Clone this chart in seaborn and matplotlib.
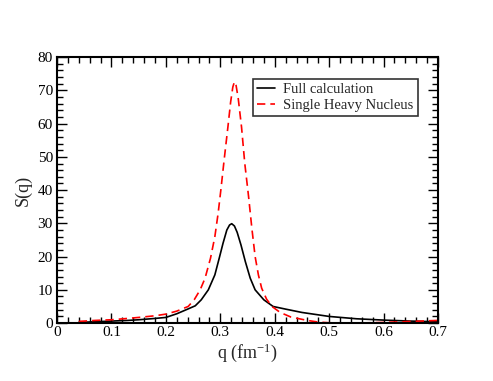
import numpy as np
import pandas as pd
import matplotlib
matplotlib.use("Agg")
import matplotlib.pyplot as plt
import seaborn as sns
from matplotlib.ticker import MultipleLocator

# Values
q_full = [0.04, 0.07, 0.10, 0.13, 0.15, 0.18, 0.20, 0.22, 0.24, 0.254, 0.265, 0.278, 0.29,
          0.298, 0.305, 0.312, 0.317, 0.321, 0.326, 0.331, 0.338, 0.346, 0.355, 0.364,
          0.38, 0.397, 0.42, 0.45, 0.50, 0.55, 0.60, 0.65, 0.70]
s_full = [0.2, 0.4, 0.6, 0.8, 1.0, 1.4, 1.7, 2.8, 4.2, 5.2, 7.0, 10.0, 14.5,
          19.5, 24.0, 28.0, 29.5, 29.9, 29.2, 27.3, 23.5, 18.5, 13.5, 10.0,
          7.0, 5.0, 4.2, 3.2, 2.0, 1.3, 0.9, 0.6, 0.4]

q_heavy = [0.04, 0.07, 0.10, 0.13, 0.15, 0.18, 0.20, 0.22, 0.241, 0.252, 0.263, 0.272,
           0.282, 0.29, 0.296, 0.301, 0.307, 0.314, 0.319, 0.323, 0.326, 0.329, 0.333,
           0.339, 0.345, 0.352, 0.358, 0.364, 0.37, 0.376, 0.385, 0.395, 0.41, 0.43,
           0.46, 0.48, 0.50, 0.55, 0.60, 0.65, 0.70]
s_heavy = [0.5, 0.8, 1.0, 1.4, 1.7, 2.2, 2.7, 3.6, 5.0, 7.0, 10.0, 13.5,
           19.5, 26.0, 33.0, 40.0, 49.0, 59.0, 66.5, 71.0, 72.6, 71.5, 67.5,
           59.0, 48.0, 38.0, 28.5, 20.0, 14.5, 10.5, 7.2, 5.0, 3.2, 1.8,
           0.8, 0.3, 0.1, 0.0, 0.2, 0.5, 0.8]

df_full = pd.DataFrame({"q": q_full, "S": s_full})
df_heavy = pd.DataFrame({"q": q_heavy, "S": s_heavy})

sns.set_theme(style="ticks")
plt.rcParams['font.family'] = ['Liberation Serif', 'DejaVu Serif']
plt.rcParams['mathtext.fontset'] = 'stix'

fig, ax = plt.subplots(figsize=(4.93, 3.81), dpi=100)
fig.subplots_adjust(left=0.1156, right=0.8885, top=0.85, bottom=0.152)

sns.lineplot(data=df_full, x="q", y="S", ax=ax, color="black", lw=1.2,
             label="Full calculation")
sns.lineplot(data=df_heavy, x="q", y="S", ax=ax, color="red", lw=1.2,
             dashes=False, label="Single Heavy Nucleus", linestyle=(0, (5, 3)))

ax.set_xlim(0, 0.7)
ax.set_ylim(0, 80)
ax.xaxis.set_major_locator(MultipleLocator(0.1))
ax.xaxis.set_minor_locator(MultipleLocator(0.02))
ax.yaxis.set_major_locator(MultipleLocator(10))
ax.yaxis.set_minor_locator(MultipleLocator(2))
ax.xaxis.set_major_formatter(plt.FuncFormatter(lambda v, p: "0" if abs(v) < 1e-9 else f"{v:.1f}"))

ax.tick_params(which="both", direction="in", top=True, right=True, colors="black",
               labelsize=11, width=1.0)
ax.tick_params(axis="x", pad=2)
ax.tick_params(axis="y", pad=3)
ax.tick_params(which="major", length=7)
ax.tick_params(which="minor", length=4)
for sp in ax.spines.values():
    sp.set_linewidth(1.5)
    sp.set_color("black")

ax.set_xlabel(r"q (fm$^{\mathregular{-1}}$)", fontsize=13, labelpad=2)
ax.set_ylabel("S(q)", fontsize=13, labelpad=4)

leg = ax.legend(loc="upper right", bbox_to_anchor=(0.955, 0.93), fontsize=10.5,
                frameon=True, fancybox=False, handlelength=1.2, borderpad=0.3,
                labelspacing=0.15, handletextpad=0.6, borderaxespad=0.2)
leg.get_frame().set_edgecolor("black")
leg.get_frame().set_linewidth(1.2)

fig.savefig("out.png", dpi=100)
